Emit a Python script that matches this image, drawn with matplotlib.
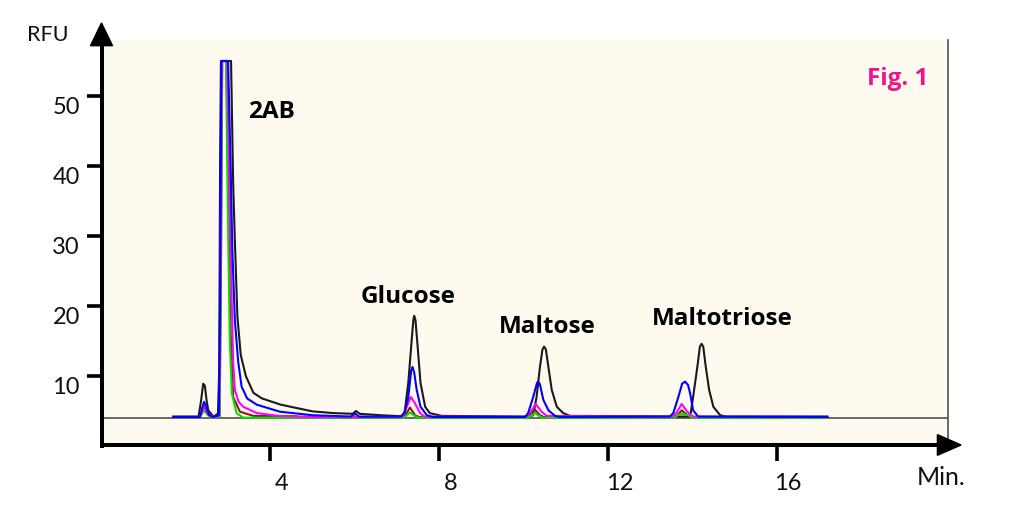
import matplotlib
matplotlib.use('Agg')
import matplotlib.pyplot as plt
from matplotlib.patches import Polygon
from matplotlib.transforms import ScaledTranslation

plt.rcParams['font.family'] = ['Lato', 'DejaVu Sans']

# ---------------- data (time in min, signal in RFU) ----------------
black_pts = [(1.70, 4.2), (2.30, 4.2), (2.36, 6.5), (2.41, 8.9), (2.45, 8.6), (2.49, 6.5),
             (2.53, 5.1), (2.65, 4.2), (2.76, 4.6), (2.79, 11.0), (2.81, 40.0), (2.83, 55.0),
             (3.07, 55.0), (3.12, 37.5), (3.16, 29.4), (3.22, 18.5), (3.30, 13.0), (3.42, 10.0),
             (3.60, 7.6), (3.80, 6.8), (4.25, 5.9), (5.00, 4.95), (5.50, 4.7), (5.95, 4.6),
             (6.03, 5.0), (6.12, 4.6), (6.60, 4.4), (7.10, 4.25), (7.18, 4.6), (7.27, 9.0),
             (7.35, 15.1), (7.39, 18.0), (7.41, 18.6), (7.44, 18.0), (7.48, 15.1), (7.56, 9.0),
             (7.67, 5.6), (7.78, 4.7), (8.06, 4.3), (10.15, 4.2), (10.23, 4.4), (10.31, 7.0),
             (10.39, 11.3), (10.45, 13.8), (10.49, 14.2), (10.53, 13.8), (10.59, 11.3), (10.67, 8.0),
             (10.79, 5.6), (10.94, 4.7), (11.10, 4.3), (13.90, 4.2), (13.95, 4.2), (14.02, 7.0),
             (14.12, 11.3), (14.18, 14.2), (14.22, 14.6), (14.26, 14.2), (14.32, 11.3), (14.40, 8.0),
             (14.50, 5.6), (14.66, 4.4), (14.80, 4.2), (17.20, 4.2)]

blue_pts = [(1.70, 4.15), (2.33, 4.15), (2.39, 5.5), (2.43, 6.3), (2.48, 5.6), (2.55, 4.4),
            (2.65, 4.15), (2.78, 4.4), (2.81, 20.0), (2.84, 55.0), (3.00, 55.0), (3.06, 40.0),
            (3.10, 28.0), (3.16, 18.0), (3.24, 12.0), (3.32, 8.5), (3.45, 6.8), (3.68, 5.9),
            (4.23, 4.9), (5.00, 4.4), (5.90, 4.2), (6.02, 4.6), (6.10, 4.2), (7.10, 4.2),
            (7.19, 4.9), (7.27, 7.0), (7.34, 10.8), (7.37, 11.3), (7.41, 10.5), (7.47, 8.0),
            (7.56, 5.6), (7.71, 4.4), (7.85, 4.15), (10.04, 4.15), (10.11, 4.7), (10.23, 7.0),
            (10.32, 9.0), (10.35, 9.2), (10.39, 8.8), (10.47, 6.6), (10.59, 5.1), (10.75, 4.3),
            (10.85, 4.15), (13.47, 4.2), (13.55, 4.7), (13.67, 7.0), (13.76, 8.9), (13.83, 9.2),
            (13.90, 8.7), (13.95, 7.5), (14.02, 5.1), (14.14, 4.2), (17.20, 4.15)]

magenta_pts = [(1.70, 4.15), (2.33, 4.15), (2.43, 5.6), (2.52, 4.6), (2.65, 4.15), (2.79, 4.3),
               (2.82, 25.0), (2.85, 55.0), (2.98, 55.0), (3.03, 38.0), (3.08, 22.0), (3.12, 12.0),
               (3.16, 8.0), (3.25, 6.3), (3.36, 5.6), (3.68, 4.7), (4.20, 4.3), (5.00, 4.15),
               (7.12, 4.15), (7.22, 5.4), (7.33, 7.0), (7.43, 6.1), (7.55, 4.7), (7.65, 4.2),
               (10.05, 4.15), (10.15, 4.7), (10.29, 6.0), (10.43, 4.9), (10.55, 4.3), (13.52, 4.15),
               (13.62, 4.7), (13.75, 6.0), (13.88, 4.9), (14.02, 4.2), (17.20, 4.15)]

darkred_pts = [(1.70, 4.15), (2.33, 4.15), (2.43, 5.3), (2.52, 4.5), (2.65, 4.15), (2.80, 4.3),
               (2.83, 25.0), (2.86, 55.0), (2.96, 55.0), (3.00, 38.0), (3.05, 18.0), (3.12, 7.0),
               (3.28, 4.9), (3.60, 4.3), (4.60, 4.25), (4.70, 4.15), (7.14, 4.15), (7.22, 4.6),
               (7.31, 5.5), (7.43, 4.4), (7.52, 4.15), (10.08, 4.15), (10.15, 4.4), (10.27, 5.2),
               (10.39, 4.4), (10.48, 4.15), (13.55, 4.15), (13.63, 4.3), (13.75, 5.1), (13.90, 4.3),
               (14.00, 4.15), (17.20, 4.15)]

green_pts = [(1.70, 4.15), (2.33, 4.15), (2.43, 5.1), (2.52, 4.4), (2.65, 4.1), (2.80, 4.2),
             (2.83, 25.0), (2.86, 55.0), (2.95, 55.0), (2.99, 35.0), (3.04, 15.0), (3.09, 7.5),
             (3.20, 4.7), (3.36, 4.05), (7.16, 4.05), (7.22, 4.3), (7.31, 4.8), (7.42, 4.3),
             (7.50, 4.05), (10.10, 4.05), (10.18, 4.3), (10.27, 4.7), (10.37, 4.3), (10.45, 4.05),
             (13.57, 4.05), (13.65, 4.4), (13.75, 4.6), (13.92, 4.4), (14.00, 4.05), (17.20, 4.05)]

baseline_rfu = 3.96
x_ticks = [4, 8, 12, 16]
y_ticks = [10, 20, 30, 40, 50]
peak_labels = ['2AB', 'Glucose', 'Maltose', 'Maltotriose']
peak_label_pos = [(4.02, 46.9), (7.27, 20.4), (10.57, 16.1), (14.72, 17.3)]

# ---------------- figure ----------------
fig = plt.figure(figsize=(10.24, 5.2), dpi=100)
ax = fig.add_axes([101.5 / 1024, 1 - 446 / 520, (948 - 101.5) / 1024, (446 - 40) / 520])
ax.set_facecolor('#fffaef')
ax.set_xlim(0, 20.06)
ax.set_ylim(0, 58)

ax.axhline(baseline_rfu, color='#505050', lw=1.2, zorder=1)

traces = [(black_pts, '#1a1a1a'), (darkred_pts, '#961414'), (green_pts, '#00e000'),
          (magenta_pts, '#ff00ff'), (blue_pts, '#0000ff')]
for pts, col in traces:
    t = [p[0] for p in pts]
    v = [p[1] for p in pts]
    ax.plot(t, v, color=col, lw=1.5, zorder=2)

# spines
ax.spines['top'].set_visible(False)
ax.spines['left'].set_visible(False)
ax.spines['bottom'].set_visible(False)
ax.spines['right'].set_color('#505050')
ax.spines['right'].set_linewidth(1.2)

# axis lines with arrows
ax.plot([0, 0], [-0.004, 0.988], transform=ax.transAxes, color='black', lw=2.9,
        clip_on=False, solid_capstyle='butt', zorder=5)
ax.plot([-0.002, 0.989], [0.0025, 0.0025], transform=ax.transAxes, color='black', lw=2.9,
        clip_on=False, solid_capstyle='butt', zorder=5)
ax.add_patch(Polygon([(0, 1.042), (-0.013, 0.986), (0.013, 0.986)], closed=True,
                     transform=ax.transAxes, color='black', clip_on=False, zorder=6))
ax.add_patch(Polygon([(1.0154, 0.0025), (0.9875, 0.028), (0.9875, -0.023)], closed=True,
                     transform=ax.transAxes, color='black', clip_on=False, zorder=6))

# ticks
ax.set_xticks(x_ticks)
ax.set_yticks(y_ticks)
ax.set_xticklabels([str(x) for x in x_ticks])
ax.set_yticklabels([str(y) for y in y_ticks])
ax.tick_params(axis='both', direction='out', length=10.8, width=2.6, color='black',
               labelsize=17, labelcolor='#111111')
ax.tick_params(axis='x', pad=9.0)
ax.tick_params(axis='y', pad=4.8)
for lbl in ax.get_xticklabels():
    lbl.set_transform(lbl.get_transform() + ScaledTranslation(0.115, 0, fig.dpi_scale_trans))
for lbl in ax.get_yticklabels():
    lbl.set_transform(lbl.get_transform() + ScaledTranslation(0, -0.09, fig.dpi_scale_trans))

# texts
bold_family = ['Open Sans', 'DejaVu Sans']
for name, (tx, ty) in zip(peak_labels, peak_label_pos):
    ax.text(tx, ty, name, ha='center', va='baseline', fontsize=17.5, fontweight='bold',
            color='black', family=bold_family)
ax.text(18.87, 51.6, 'Fig. 1', ha='center', va='baseline', fontsize=17.5, fontweight='bold',
        color='#f0148c', family=bold_family)
ax.text(-1.28, 57.9, 'RFU', ha='center', va='baseline', fontsize=15.5, color='#111111',
        clip_on=False)
ax.text(19.89, -5.57, 'Min.', ha='center', va='baseline', fontsize=18, color='#111111',
        clip_on=False)

fig.savefig('out.png', dpi=100)
